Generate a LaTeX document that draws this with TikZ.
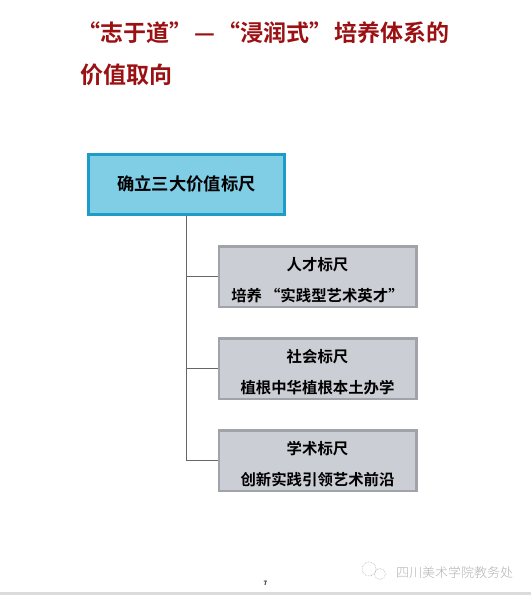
\documentclass[tikz,border=0pt]{standalone}
\usepackage{fontspec}
\usepackage{xcolor}
\usepackage{tikz}
\newfontfamily\cjkbold{Noto Sans CJK SC Bold}
\newfontfamily\cjklight{Noto Sans CJK SC Light}
\definecolor{tred}{RGB}{155, 16, 18}
\definecolor{rblue}{RGB}{128, 205, 230}
\definecolor{rborder}{RGB}{30, 156, 200}
\definecolor{sgray}{RGB}{203, 206, 212}
\definecolor{sborder}{RGB}{160, 164, 169}
\definecolor{wgray}{RGB}{178, 178, 178}

\begin{document}
\begin{tikzpicture}[x=1pt, y=-1pt,
    rootbox/.style={draw=rborder, line width=3pt, fill=rblue, minimum width=196pt, minimum height=60pt, inner sep=0pt},
    subbox/.style={draw=sborder, line width=2.5pt, fill=sgray, minimum width=197.5pt, minimum height=60.5pt, inner sep=0pt},
    subtxt/.style={align=center, font=\cjkbold\fontsize{15.4}{31}\selectfont},
    conn/.style={draw=black!60, line width=1.5pt}]
        \useasboundingbox (0,0) rectangle (531,595);
        \fill[black!14] (0,592) rectangle (531,595);

        % title
        \node[anchor=west, inner sep=0pt, text=tred, font=\cjkbold\fontsize{23}{23}\selectfont] (title1) at (77,33) {“志于道”\hspace{2pt}—\hspace{2pt}“浸润式”\hspace{2pt}培养体系的};
        \node[anchor=west, inner sep=0pt, text=tred, font=\cjkbold\fontsize{23}{23}\selectfont] (title2) at (80,75) {价值取向};

        % root and its three standards
        \node[rootbox, font=\cjkbold\fontsize{17.3}{17.3}\selectfont] (root) at (186.5,184.5) {\raisebox{2pt}{确立三大价值标尺}};

        \node[subbox] (talent) at (317.5,276.5) {};
        \node[subtxt] at ([yshift=-4pt]talent.center) {人才标尺\\培养\hspace{3pt}“实践型艺术英才”};

        \node[subbox] (society) at (317.5,368.5) {};
        \node[subtxt] at ([yshift=-4pt]society.center) {社会标尺\\植根中华植根本土办学};

        \node[subbox] (academy) at (317.5,460.5) {};
        \node[subtxt] at ([yshift=-4pt]academy.center) {学术标尺\\创新实践引领艺术前沿};

        \draw[conn] (root.south) |- (talent.west);
        \draw[conn] (root.south) |- (society.west);
        \draw[conn] (root.south) |- (academy.west);

        % page number and watermark
        \node[font=\cjkbold\fontsize{6}{6}\selectfont] (page) at (265.5,583) {7};
        \draw[wgray, line width=0.6pt, densely dotted] (369,569) circle (7);
        \draw[wgray, line width=0.6pt, densely dotted] (380,574) circle (5.5);
        \node[anchor=west, inner sep=0pt, text=wgray, font=\cjklight\fontsize{13}{13}\selectfont] (mark) at (396,573) {四川美术学院教务处};
    \end{tikzpicture}
\end{document}
